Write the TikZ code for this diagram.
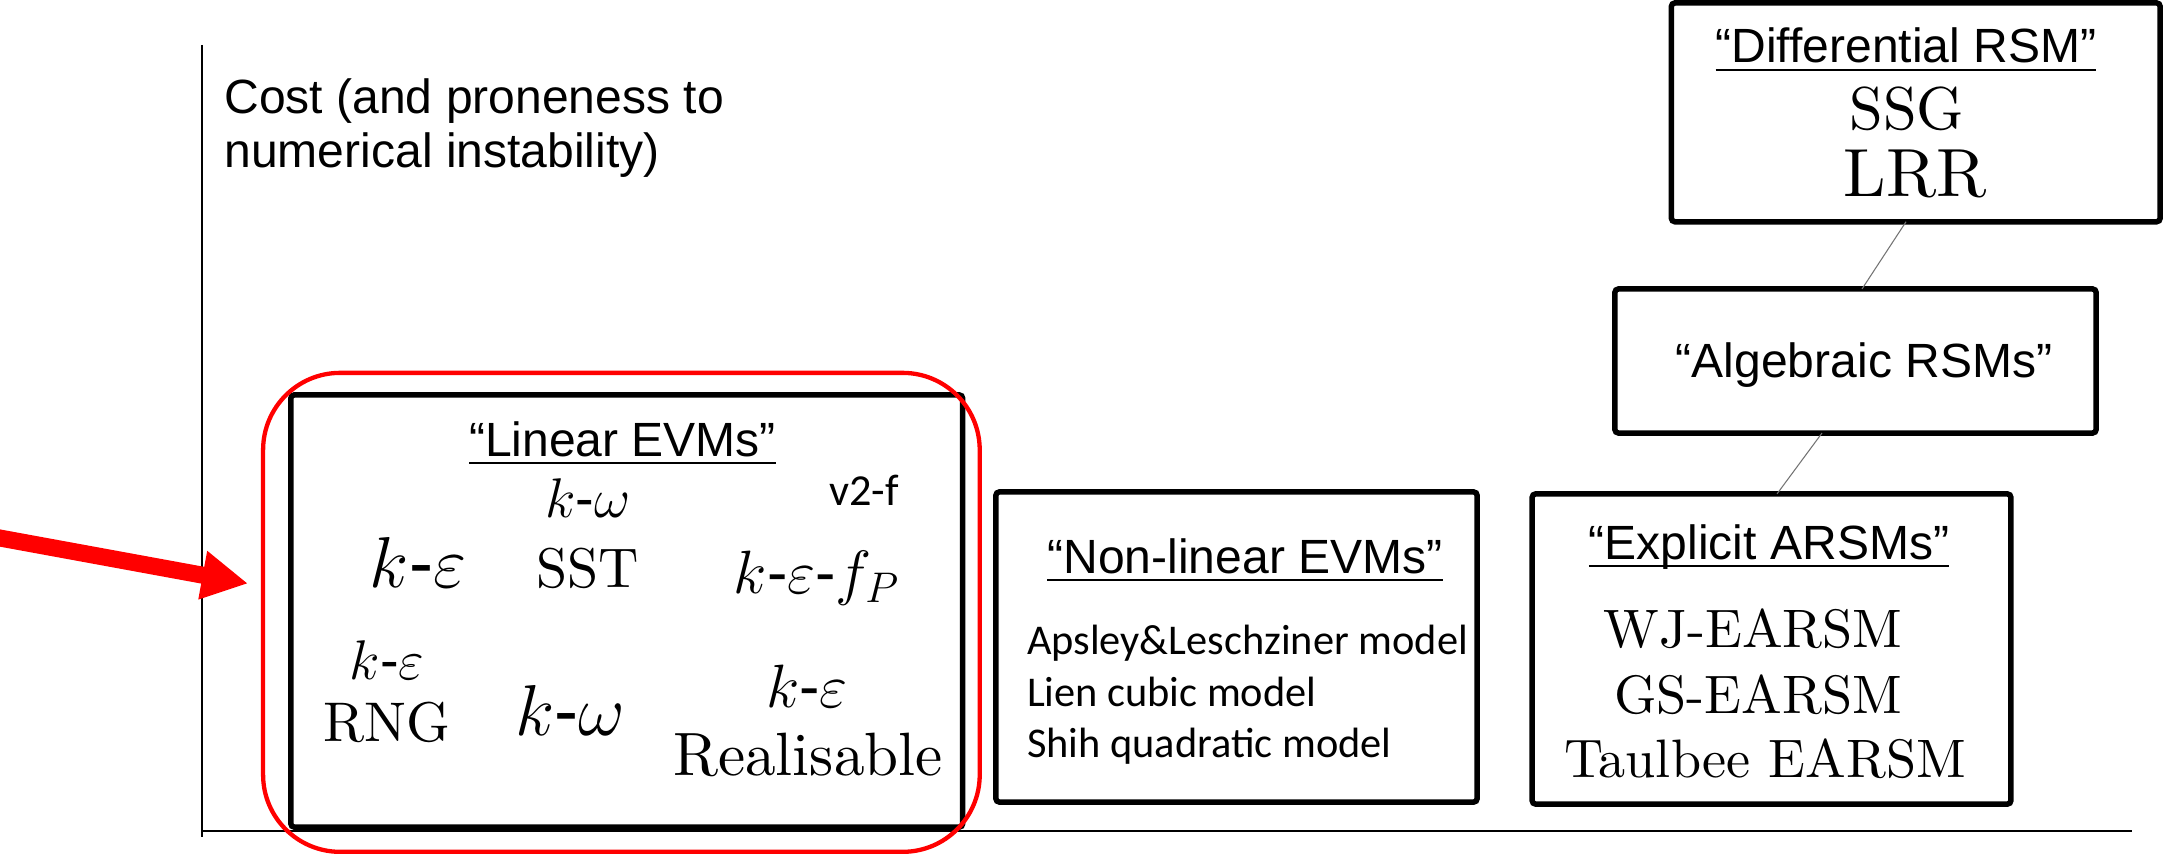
\RequirePackage{fix-cm}
\documentclass[tikz,border=0pt]{standalone}
\usepackage{fontspec}
\setmainfont{lmroman10-regular.otf}
\newfontfamily\sansA{Liberation Sans}
\newfontfamily\calib{Carlito}
\usetikzlibrary{arrows.meta}

% underlined heading with a rule at a fixed depth below the baseline
\newsavebox\ulbox
\newcommand\ulhead[1]{\sbox\ulbox{#1}\rlap{\rule[-0.175em]{\wd\ulbox}{0.055em}}\usebox\ulbox}
% heavy hyphen used inside model names
\newcommand\hy{\mbox{\sansA -}}

\tikzset{
  box/.style={draw=black, line width=1.56pt, inner sep=0pt, outer sep=0pt, rounded corners=1pt},
  redbox/.style={draw=red, line width=1.22pt, inner sep=0pt, outer sep=0pt, rounded corners=0.77cm},
  axis/.style={line width=0.37pt, draw=black},
  conn/.style={draw=black!55, line width=0.3pt},
  bigarrow/.style={draw=red, line width=0.17cm, -{Triangle[length=0.46cm,width=0.46cm]}},
  txt/.style={inner sep=0pt, outer sep=0pt, anchor=base},
  head/.style={txt, font=\sansA\fontsize{13.66}{15.48}\selectfont},
  listtxt/.style={txt, anchor=base west, font=\calib\fontsize{12.05}{14.65}\selectfont},
  bigm/.style={txt, font=\fontsize{20.5}{24}\selectfont},
  smallm/.style={txt, font=\fontsize{15.9}{19}\selectfont},
  midm/.style={txt, font=\fontsize{17.4}{21}\selectfont},
  earsm/.style={txt, font=\fontsize{15.4}{18.5}\selectfont},
}

\begin{document}
\begin{tikzpicture}[x=0.01cm, y=-0.01cm]
\useasboundingbox (0,0) rectangle (2164,855);

% axes
\coordinate (origin) at (202,831);
\coordinate (ytop) at (202,45);
\coordinate (xend) at (2132,831);
\draw[axis] (ytop) -- ([yshift=-0.06cm]origin);
\draw[axis] (origin) -- (xend);

\node[head, anchor=base west, align=left] (costlbl) at (224.5,168)
  {Cost (and proneness to\\numerical instability)};

% model family boxes
\node[box, minimum width=6.715cm, minimum height=4.32cm] (linear) at (626.75,611) {};
\node[box, minimum width=4.81cm, minimum height=3.10cm] (nonlin) at (1236.5,647) {};
\node[box, minimum width=4.785cm, minimum height=3.10cm] (expl) at (1771.5,649) {};
\node[box, minimum width=4.81cm, minimum height=1.44cm] (alg) at (1855.5,361) {};
\node[box, minimum width=4.885cm, minimum height=2.187cm] (diff) at (1915.75,112.35) {};

% highlight frame and pointer
\node[redbox, minimum width=7.162cm, minimum height=4.787cm] (lingroup) at (621.4,612.35) {};
\coordinate (arrowtail) at (-10,536.2);
\coordinate (arrowtip) at (248,583.5);
\draw[bigarrow] (arrowtail) -- (arrowtip);

% thin links between the Reynolds-stress boxes
\draw[conn] ([xshift=-0.0975cm]diff.south) -- ([xshift=0.065cm]alg.north);
\draw[conn] ([xshift=-0.335cm]alg.south) -- ([xshift=0.055cm]expl.north);

% linear eddy-viscosity models
\node[head] (lintitle) at (622.5,456) {\ulhead{“Linear EVMs”}};
\node[smallm] (kwsst) at (588,517) {$k\hy\omega$};
\node[smallm] (sst) at (588,587) {SST};
\node[bigm] (ke) at (418,587) {$k\hy\varepsilon$};
\node[txt, font=\calib\fontsize{12.6}{15}\selectfont] (v2f) at (864,505) {v2-f};
\node[midm] (kefp) at (817,593) {$k\hy\varepsilon\hy f_P$};
\node[smallm] (kerng) at (387,679) {$k\hy\varepsilon$};
\node[smallm] (rng) at (387,741) {RNG};
\node[bigm] (kw) at (570,735) {$k\hy\omega$};
\node[midm] (kereal) at (807,707) {$k\hy\varepsilon$};
\node[midm] (real) at (808,775) {Realisable};

% non-linear eddy-viscosity models
\node[head] (nltitle) at (1245,573) {\ulhead{“Non-linear EVMs”}};
\node[listtxt] (apsley) at (1027,654) {Apsley\&Leschziner model};
\node[listtxt] (lien) at (1027,706) {Lien cubic model};
\node[listtxt] (shih) at (1027,757) {Shih quadratic model};

% explicit algebraic RSMs
\node[head] (extitle) at (1769,559) {\ulhead{“Explicit ARSMs”}};
\node[earsm] (wj) at (1753,647) {WJ-EARSM};
\node[earsm] (gs) at (1758,713) {GS-EARSM};
\node[earsm] (taul) at (1765,777) {Taulbee EARSM};

% algebraic RSMs
\node[head] (algtitle) at (1864,377) {“Algebraic RSMs”};

% differential RSM
\node[head] (difftitle) at (1906,63) {\ulhead{“Differential RSM”}};
\node[txt, font=\fontsize{17.2}{21}\selectfont] (ssg) at (1907,130) {SSG};
\node[txt, font=\fontsize{19.4}{23}\selectfont] (lrr) at (1915,197) {LRR};
\end{tikzpicture}
\end{document}
